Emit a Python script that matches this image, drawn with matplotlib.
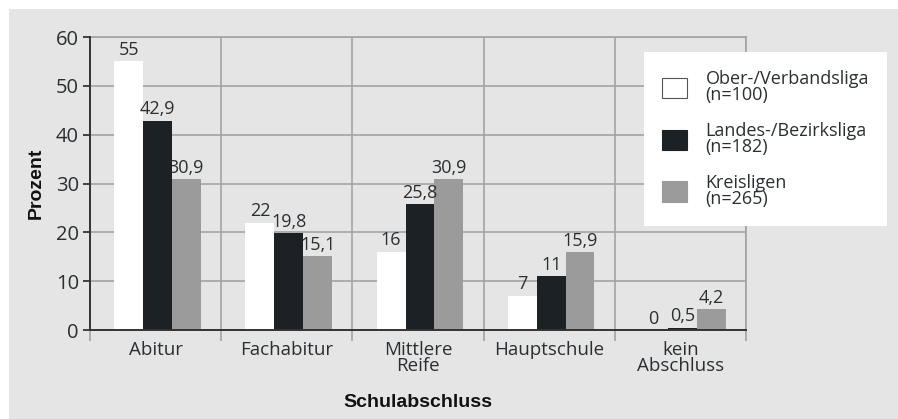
import matplotlib
matplotlib.use("Agg")
import matplotlib.pyplot as plt
import numpy as np
from matplotlib.patches import Rectangle, Patch

plt.rcParams['font.family'] = ['Open Sans', 'DejaVu Sans']

categories = ["Abitur", "Fachabitur", "Mittlere\nReife", "Hauptschule", "kein\nAbschluss"]
series_names = ["Ober-/Verbandsliga\n(n=100)", "Landes-/Bezirksliga\n(n=182)", "Kreisligen\n(n=265)"]
ober = [55, 22, 16, 7, 0]
landes = [42.9, 19.8, 25.8, 11, 0.5]
kreis = [30.9, 15.1, 30.9, 15.9, 4.2]
series = [ober, landes, kreis]
colors = ["#ffffff", "#1b2124", "#9a9b9a"]
yticks = [0, 10, 20, 30, 40, 50, 60]

W, H = 898, 419
fig = plt.figure(figsize=(W / 100, H / 100), dpi=100)
fig.patch.set_facecolor("white")
fig.add_artist(Rectangle((9 / W, 0), 1, 1 - 9 / H, transform=fig.transFigure,
                         facecolor="#e5e5e5", edgecolor="none", zorder=-10))

ax = fig.add_axes([90 / W, 1 - 330 / H, (746 - 90) / W, (330 - 37) / H])
ax.set_facecolor("#e5e5e5")

txtc = "#2b2f31"
x = np.arange(len(categories))
bw = 0.22
for i, (vals, col) in enumerate(zip(series, colors)):
    pos = x + (i - 1) * bw + 0.015
    bars = ax.bar(pos, vals, width=bw, color=col, edgecolor="none", zorder=3)
    for b, v in zip(bars, vals):
        lab = f"{v:g}".replace(".", ",")
        ax.text(b.get_x() + b.get_width() / 2, v + 0.5, lab, ha="center", va="bottom",
                fontsize=13, color=txtc, zorder=4)

ax.set_xlim(-0.5, len(categories) - 0.5)
ax.set_ylim(0, 60)
ax.set_yticks(yticks)
ax.set_yticklabels([str(t) for t in yticks], fontsize=14.5, color=txtc)
ax.set_xticks(x)
ax.set_xticklabels(categories, fontsize=13.5, color=txtc, linespacing=0.85)
ax.set_xticks(np.arange(-0.5, len(categories)), minor=True)
ax.tick_params(axis="x", which="major", length=0, pad=8)
ax.tick_params(axis="x", which="minor", length=8, width=1.2, color="#a3a3a3", direction="out")
ax.tick_params(axis="y", length=5, width=1.3, color="#333333", pad=3)

ax.grid(axis="y", color="#a3a3a3", linewidth=1.2, zorder=1)
ax.grid(axis="x", which="minor", color="#a3a3a3", linewidth=1.2, zorder=1)
ax.set_axisbelow(True)

for s in ["top", "right"]:
    ax.spines[s].set_color("#a3a3a3")
    ax.spines[s].set_linewidth(1.2)
for s in ["left", "bottom"]:
    ax.spines[s].set_color("#333333")
    ax.spines[s].set_linewidth(1.4)
    ax.spines[s].set_zorder(5)

ax.set_xlabel("Schulabschluss", fontsize=14, fontweight="bold", color="#111111",
              labelpad=14, family=["Liberation Sans", "DejaVu Sans"])
ax.set_ylabel("Prozent", fontsize=14, fontweight="bold", color="#111111",
              labelpad=8, family=["Liberation Sans", "DejaVu Sans"])

handles = [Patch(facecolor=c, edgecolor=("#555555" if c == "#ffffff" else c), linewidth=0.8)
           for c in colors]
leg = fig.legend(handles, series_names, loc="upper left",
                 bbox_to_anchor=(644 / W, 1 - 52 / H), bbox_transform=fig.transFigure,
                 fontsize=13, frameon=True, fancybox=False, borderpad=1.0,
                 handlelength=1.4, handleheight=1.4, handletextpad=1.0, labelspacing=1.0,
                 borderaxespad=0)
leg.get_frame().set_facecolor("white")
leg.get_frame().set_edgecolor("none")
leg.get_frame().set_alpha(1)
for t in leg.get_texts():
    t.set_color(txtc)
    t.set_linespacing(0.85)

fig.savefig("out.png", dpi=100)
